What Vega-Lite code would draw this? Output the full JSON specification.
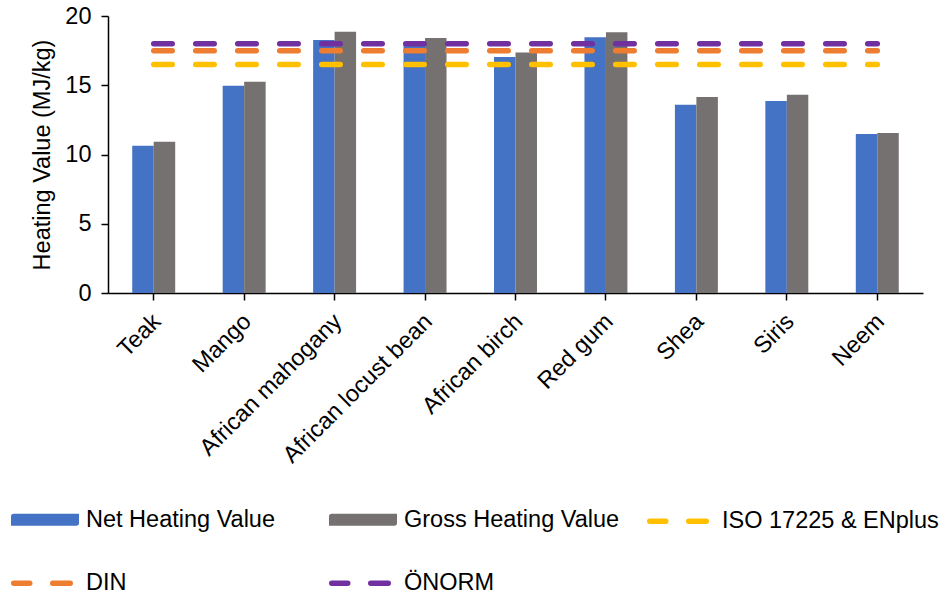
{
  "$schema": "https://vega.github.io/schema/vega-lite/v6.json",
  "width": 815,
  "height": 277,
  "autosize": "none",
  "padding": {"left": 108, "top": 16, "right": 23, "bottom": 301},
  "background": "white",
  "config": {
    "font": "Liberation Sans",
    "view": {"stroke": null},
    "axis": {"labelFont": "Liberation Sans", "titleFont": "Liberation Sans", "labelColor": "black", "titleColor": "black", "domainColor": "black", "tickColor": "black", "grid": false, "labelFontSize": 23.5, "titleFontSize": 23.5, "titleFontWeight": "normal", "domainWidth": 1.5, "tickWidth": 1.5, "tickSize": 7, "labelLimit": 400}
  },
  "datasets": {
    "bars": [
      {"species": "Teak", "series": "Net Heating Value", "value": 10.63},
      {"species": "Teak", "series": "Gross Heating Value", "value": 10.92},
      {"species": "Mango", "series": "Net Heating Value", "value": 14.97},
      {"species": "Mango", "series": "Gross Heating Value", "value": 15.26},
      {"species": "African mahogany", "series": "Net Heating Value", "value": 18.27},
      {"species": "African mahogany", "series": "Gross Heating Value", "value": 18.87},
      {"species": "African locust bean", "series": "Net Heating Value", "value": 17.95},
      {"species": "African locust bean", "series": "Gross Heating Value", "value": 18.41},
      {"species": "African birch", "series": "Net Heating Value", "value": 17.04},
      {"species": "African birch", "series": "Gross Heating Value", "value": 17.37},
      {"species": "Red gum", "series": "Net Heating Value", "value": 18.46},
      {"species": "Red gum", "series": "Gross Heating Value", "value": 18.82},
      {"species": "Shea", "series": "Net Heating Value", "value": 13.6},
      {"species": "Shea", "series": "Gross Heating Value", "value": 14.15},
      {"species": "Siris", "series": "Net Heating Value", "value": 13.86},
      {"species": "Siris", "series": "Gross Heating Value", "value": 14.32},
      {"species": "Neem", "series": "Net Heating Value", "value": 11.48},
      {"species": "Neem", "series": "Gross Heating Value", "value": 11.55}
    ],
    "standards": [
      {"series": "ISO 17225 & ENplus", "value": 16.5, "from": "Teak", "to": "Neem"},
      {"series": "DIN", "value": 17.5, "from": "Teak", "to": "Neem"},
      {"series": "ÖNORM", "value": 18.0, "from": "Teak", "to": "Neem"}
    ]
  },
  "layer": [
    {
      "data": {"name": "bars"},
      "mark": {"type": "bar"},
      "encoding": {
        "x": {"field": "species", "type": "nominal", "sort": null,
          "scale": {"paddingInner": 0.525, "paddingOuter": 0.268},
          "axis": {"title": null, "labelAngle": -45, "labelPadding": 9, "labelOffset": -5}},
        "xOffset": {"field": "series", "type": "nominal", "sort": ["Net Heating Value", "Gross Heating Value"], "scale": {"paddingInner": 0, "paddingOuter": 0}},
        "y": {"field": "value", "type": "quantitative", "scale": {"domain": [0, 20], "nice": false},
          "axis": {"title": "Heating Value (MJ/kg)", "values": [0, 5, 10, 15, 20], "labelPadding": 10, "titlePadding": 10}},
        "color": {"field": "series", "type": "nominal",
          "scale": {"domain": ["Net Heating Value", "Gross Heating Value", "ISO 17225 & ENplus", "DIN", "ÖNORM"],
                    "range": ["#4472C4", "#767171", "#FFC000", "#ED7D31", "#7030A0"]},
          "legend": {
            "title": null, "orient": "none", "legendX": -97, "legendY": 492,
            "direction": "horizontal", "columns": 3, "gridAlign": "all",
            "columnPadding": 17, "rowPadding": 36.5, "padding": 0,
            "symbolType": "M-1.8,-0.65H10.7V0.65H-1.8Z", "symbolSize": 100, "symbolStrokeWidth": 5.5,
            "labelFont": "Liberation Sans", "labelFontSize": 23.5, "labelColor": "black", "labelLimit": 400, "labelOffset": 51.5,
            "encode": {
              "symbols": {
                "update": {
                  "shape": [{"test": "datum.value === 'Net Heating Value' || datum.value === 'Gross Heating Value'", "value": "M-1.8,-0.65H10.7V0.65H-1.8Z"}, {"value": "M-1.8,0H1.4M6,0H9.5"}],
                  "strokeDash": {"value": [1, 0]},
                  "strokeCap": {"value": "round"},
                  "opacity": {"value": 1}
                }
              }
            }
          }
        }
      }
    },
    {
      "data": {"name": "standards"},
      "mark": {"type": "rule", "strokeWidth": 5.5, "strokeCap": "round", "strokeDash": [18.5, 23.5]},
      "encoding": {
        "x": {"field": "from", "type": "nominal", "sort": null},
        "x2": {"field": "to"},
        "y": {"field": "value", "type": "quantitative"},
        "color": {"field": "series", "type": "nominal",
          "legend": {
            "title": null, "orient": "none", "legendX": -97, "legendY": 492,
            "direction": "horizontal", "columns": 3, "gridAlign": "all",
            "columnPadding": 17, "rowPadding": 36.5, "padding": 0,
            "symbolType": "M-1.8,-0.65H10.7V0.65H-1.8Z", "symbolSize": 100, "symbolStrokeWidth": 5.5,
            "labelFont": "Liberation Sans", "labelFontSize": 23.5, "labelColor": "black", "labelLimit": 400, "labelOffset": 51.5,
            "encode": {
              "symbols": {
                "update": {
                  "shape": [{"test": "datum.value === 'Net Heating Value' || datum.value === 'Gross Heating Value'", "value": "M-1.8,-0.65H10.7V0.65H-1.8Z"}, {"value": "M-1.8,0H1.4M6,0H9.5"}],
                  "strokeDash": {"value": [1, 0]},
                  "strokeCap": {"value": "round"},
                  "opacity": {"value": 1}
                }
              }
            }
          }
        }
      }
    }
  ]
}
